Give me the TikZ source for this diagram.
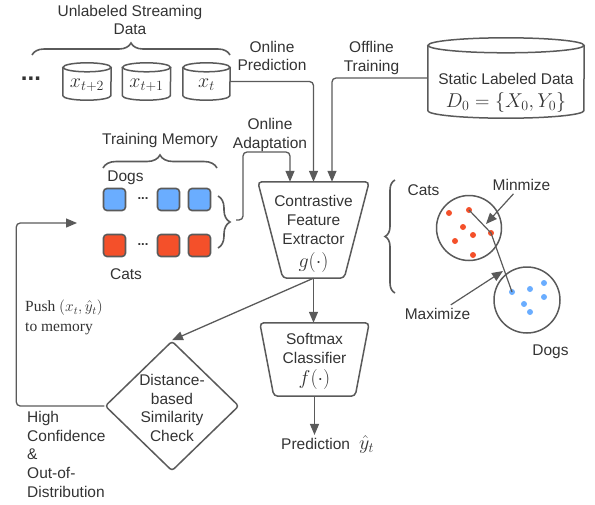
\RequirePackage{fix-cm}
\documentclass[tikz,border=0pt]{standalone}
\usepackage{fontspec}
\setmainfont{Liberation Sans}
\newfontfamily\timesfont{Liberation Serif}
\usepackage{tikz}
\usetikzlibrary{arrows.meta,decorations.pathreplacing,shapes.geometric}

\definecolor{linegray}{HTML}{5A5A5A}
\definecolor{txtgray}{HTML}{333333}
\definecolor{dogblue}{HTML}{6AADFF}
\definecolor{catred}{HTML}{F4502A}

\newcommand{\mathtxt}[1]{{\fontsize{20}{22}\selectfont$#1$}}
% cylinder outline round a node: name, half width, cap radius
\newcommand{\dbdraw}[3]{%
  \draw[dbline] ([yshift=-#3]#1.north west) -- ([yshift=#3]#1.south west)
     arc[start angle=180, end angle=360, x radius=#2, y radius=#3]
     -- ([yshift=-#3]#1.north east);
  \draw[dbline] ([yshift=-#3]#1.north) ellipse [x radius=#2, y radius=#3];}

\begin{document}
\begin{tikzpicture}[x=1pt,y=-1pt,
    every node/.style={font=\fontsize{15.5}{18.7}\selectfont, text=txtgray, inner sep=0pt},
    arr/.style={draw=linegray, line width=1.3pt, rounded corners=4pt, -{Triangle[length=11pt,width=9pt]}},
    brc/.style={draw=linegray, line width=1.6pt, decorate, decoration={brace, amplitude=#1}},
    dbline/.style={draw=linegray, line width=1.5pt},
    box/.style={draw=linegray, line width=1.5pt, rounded corners=4pt},
    memsq/.style={draw=linegray, line width=1.6pt, rounded corners=3.5pt, minimum size=22pt, fill=#1},
    ptdot/.style={circle, fill=#1, minimum size=6pt},
    ]
    \useasboundingbox (0,0) rectangle (595,504);

    % streaming data
    \node (unlab) at (130,20) [align=center] {Unlabeled Streaming\\Data};
    \draw[brc=12pt] (32,55) -- (230,55);
    \node (more) at (31,79) {\bfseries\fontsize{24}{24}\selectfont...};
    \node (xtb) at (87,81.5) [minimum width=48pt, minimum height=37pt] {};
    \node (xta) at (146.5,81.5) [minimum width=48pt, minimum height=37pt] {};
    \node (xt) at (206.5,81.5) [minimum width=47pt, minimum height=37pt] {};
    \dbdraw{xtb}{24pt}{4.5pt}
    \dbdraw{xta}{24pt}{4.5pt}
    \dbdraw{xt}{23.5pt}{4.5pt}
    \node (xtbtxt) at (87,85) {\mathtxt{x_{t+2}}};
    \node (xtatxt) at (146.5,85) {\mathtxt{x_{t+1}}};
    \node (xttxt) at (206.5,85) {\mathtxt{x_t}};

    % static data
    \node (static) at (506,78) [minimum width=156pt, minimum height=80pt] {};
    \dbdraw{static}{78pt}{7.5pt}
    \node (statictxt) at (506,79) {Static Labeled Data};
    \node (dzero) at (506,102) {\mathtxt{D_0 = \{X_0, Y_0\}}};

    \node (onpred) at (272,56) [align=center] {Online\\Prediction};
    \node (offtr) at (371.5,58) [align=center] {Offline\\Training};
    \node (onad) at (270,135) [align=center] {Online\\Adaptation};

    % training memory
    \node (tmem) at (160,140) {Training Memory};
    \draw[brc=13pt] (103,168) -- (217,168);
    \node (dogl) at (125.5,178) {Dogs};
    \node (cat1) at (126,274.5) {Cats};
    \node (b1) at (114.5,199.5) [memsq=dogblue] {};
    \node (b2) at (168.5,199.5) [memsq=dogblue] {};
    \node (b3) at (199.5,199.5) [memsq=dogblue] {};
    \node (r1) at (114.5,245.5) [memsq=catred] {};
    \node (r2) at (168.5,245.5) [memsq=catred] {};
    \node (r3) at (199.5,245.5) [memsq=catred] {};
    \node (bdots) at (143,199) {\bfseries\fontsize{13}{13}\selectfont...};
    \node (rdots) at (143,245) {\bfseries\fontsize{13}{13}\selectfont...};
    \draw[brc=12pt] (218,196) -- (218,248);
    \coordinate (memtip) at (236,220);
    \coordinate (adaptup) at (243,152);
    \coordinate (memin) at (77,223);

    % extractor and classifier
    \node (ext) at (313.5,230) [minimum width=111pt, minimum height=96pt] {};
    \draw[box] (ext.north west) -- (ext.north east) -- ([xshift=-25pt]ext.south east)
        -- ([xshift=25pt]ext.south west) -- cycle;
    \node (exttxt) at (313.5,195.5) [anchor=north, align=center] {Contrastive\\Feature\\Extractor\\[4pt]\mathtxt{g(\cdot)}};
    \node (soft) at (314.5,359.5) [minimum width=109pt, minimum height=73pt] {};
    \draw[box] (soft.north west) -- (soft.north east) -- ([xshift=-14pt]soft.south east)
        -- ([xshift=14pt]soft.south west) -- cycle;
    \node (softtxt) at (314.5,333) [anchor=north, align=center] {Softmax\\Classifier\\[3pt]\mathtxt{f(\cdot)}};
    \node (pred) at (281,449) [anchor=base west] {Prediction\hspace{9pt}\mathtxt{\hat{y}_t}};

    % similarity check
    \node (diam) at (172,406) [diamond, draw=linegray, line width=1.5pt, rounded corners=3pt,
        minimum width=134pt, minimum height=130pt] {};
    \node (diamtxt) at (172,374) [anchor=north, align=center] {Distance-\\based\\Similarity\\Check};
    \node (push) at (25,300) [anchor=north west, align=left, font=\timesfont\fontsize{15.5}{20}\selectfont]
        {Push $(x_t, \hat{y}_t)$\\to memory};
    \node (hconf) at (27,411) [anchor=north west, align=left] {High\\Confidence\\\&\\Out-of-\\Distribution};

    % connectors
    \draw[arr] (xt.east) -| (ext.north);
    \draw[arr] (static.west) -| ([xshift=18.5pt]ext.north);
    \draw[arr] (memtip) -| (adaptup) -| ([xshift=-23.5pt]ext.north);
    \draw[arr] (ext.south) -- (ext.south |- soft.north);
    \draw[arr] (ext.south) -- (diam.north);
    \draw[arr] (soft.south) -- (soft.south |- pred.north);
    \draw[arr] (diam.west) -- ++(-88,0) |- (memin);

    % embedding space
    \draw[brc=10pt] (395,293) -- (395,180);
    \node (cat2) at (423.5,190.5) {Cats};
    \node (dog2) at (550.5,352) {Dogs};
    \node (catc) at (469,228) [circle, draw=linegray, line width=1.5pt, minimum size=65pt] {};
    \node (dogc) at (527,300) [circle, draw=linegray, line width=1.5pt, minimum size=66pt] {};
    \node (c1) at (449,213) [ptdot=catred] {};
    \node (c2) at (469,210) [ptdot=catred] {};
    \node (c3) at (463,227) [ptdot=catred] {};
    \node (c4) at (473,235) [ptdot=catred] {};
    \node (c5) at (491,233) [ptdot=catred] {};
    \node (c6) at (455,241) [ptdot=catred] {};
    \node (c7) at (473,255) [ptdot=catred] {};
    \node (d1) at (512,292) [ptdot=dogblue] {};
    \node (d2) at (530,289) [ptdot=dogblue] {};
    \node (d3) at (544,283) [ptdot=dogblue] {};
    \node (d4) at (544,297) [ptdot=dogblue] {};
    \node (d5) at (524,304) [ptdot=dogblue] {};
    \node (d6) at (530,312) [ptdot=dogblue] {};
    \draw[linegray, line width=1.2pt] (c2.center) -- (c5.center) -- (d1.center);

    \node (minl) at (521.5,185) {Minmize};
    \node (maxl) at (437.5,313.5) {Maximize};
    \coordinate (mintip) at (486,224);
    \coordinate (maxtip) at (503,271);
    \draw[arr, line width=1.2pt, shorten <=4pt] (minl) -- (mintip);
    \draw[arr, line width=1.2pt, shorten <=5pt] (maxl) -- (maxtip);
\end{tikzpicture}
\end{document}
